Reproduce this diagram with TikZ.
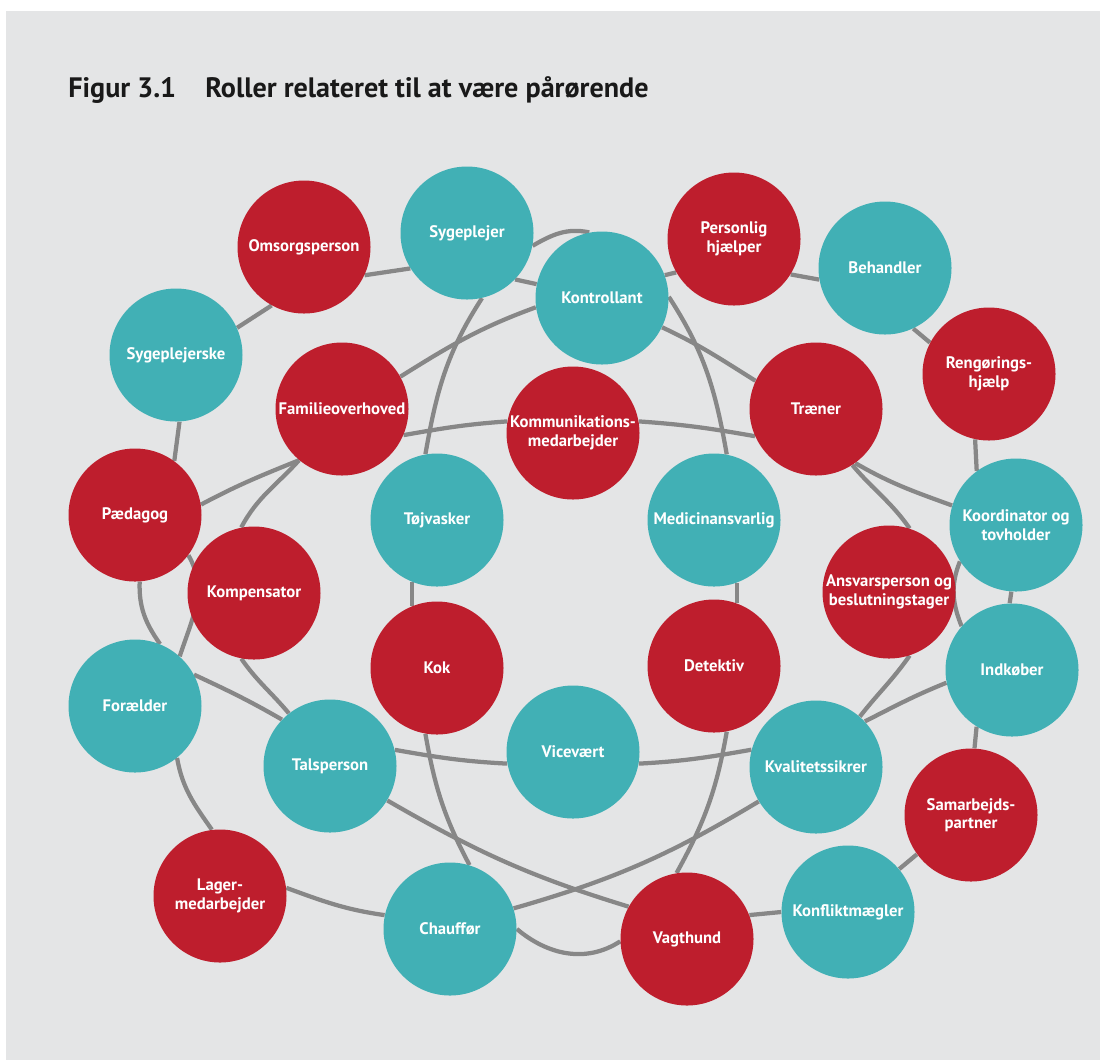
\documentclass[tikz,border=0pt]{standalone}
\usepackage{fontspec}
\setmainfont{PT Sans}
\definecolor{rolered}{HTML}{BE1E2D}
\definecolor{roleteal}{HTML}{41B0B5}
\definecolor{linkgray}{HTML}{878787}
\definecolor{panelgray}{HTML}{E4E5E6}
\pgfdeclarelayer{panel}
\pgfdeclarelayer{links}
\pgfsetlayers{panel,links,main}
\tikzset{
  role/.style={circle,minimum size=26.6mm,inner sep=0pt,text=white,align=center,
    font=\bfseries\fontsize{9.5}{10.5}\selectfont},
  redrole/.style={role,fill=rolered},
  tealrole/.style={role,fill=roleteal},
  link/.style={draw=linkgray,line width=0.85mm},
  titletext/.style={anchor=base west,inner sep=0pt,text=black!90,
    font=\bfseries\fontsize{16}{19}\selectfont}
}
\begin{document}
\begin{tikzpicture}[x=0.2mm,y=-0.2mm]
  \useasboundingbox (0,0) rectangle (1100,1060);
  \begin{pgfonlayer}{panel}
    \fill[white] (0,0) rectangle (1100,1060);
    \fill[panelgray] (6,11) rectangle (1100,1060);
  \end{pgfonlayer}

  \node[titletext] (figno) at (68,97) {Figur 3.1};
  \node[titletext] (figtitle) at (205,97) {Roller relateret til at være pårørende};

  \node[redrole]  (omsorg) at (304,247) {Omsorgsperson};
  \node[tealrole] (sygeplejer) at (467,233) {Sygeplejer};
  \node[tealrole] (kontrol) at (602,298) {Kontrollant};
  \node[redrole]  (personlig) at (734,239) {Personlig\\hjælper};
  \node[tealrole] (behandler) at (885,268) {Behandler};
  \node[redrole]  (rengoring) at (989,374) {Rengørings-\\hjælp};
  \node[tealrole] (sygeplejerske) at (176,355) {Sygeplejerske};
  \node[redrole]  (familie) at (342,409) {Familieoverhoved};
  \node[redrole]  (komm) at (573,433) {Kommunikations-\\medarbejder};
  \node[redrole]  (traener) at (816,409) {Træner};
  \node[redrole]  (paedagog) at (135,515) {Pædagog};
  \node[redrole]  (kompensator) at (254,593) {Kompensator};
  \node[tealrole] (tojvasker) at (437,520) {Tøjvasker};
  \node[tealrole] (medicin) at (714,520) {Medicinansvarlig};
  \node[tealrole] (koordinator) at (1016,525) {Koordinator og\\tovholder};
  \node[redrole]  (ansvar) at (889,592) {Ansvarsperson og\\beslutningstager};
  \node[tealrole] (indkober) at (1012,670) {Indkøber};
  \node[tealrole] (foraelder) at (135,706) {Forælder};
  \node[redrole]  (kok) at (437,668) {Kok};
  \node[redrole]  (detektiv) at (714,666) {Detektiv};
  \node[tealrole] (talsperson) at (330,766) {Talsperson};
  \node[tealrole] (vicevaert) at (573,752) {Vicevært};
  \node[tealrole] (kvalitet) at (816,767) {Kvalitetssikrer};
  \node[redrole]  (samarbejd) at (971,815) {Samarbejds-\\partner};
  \node[tealrole] (konflikt) at (848,912) {Konfliktmægler};
  \node[redrole]  (vagthund) at (687,939) {Vagthund};
  \node[tealrole] (chauffor) at (450,929) {Chauffør};
  \node[redrole]  (lager) at (220,896) {Lager-\\medarbejder};

  \begin{pgfonlayer}{links}
    \foreach \a/\b in {sygeplejerske.24/omsorg.241, omsorg.335/sygeplejer.212,
        sygeplejer.316/kontrol.168, kontrol.20/personlig.210, personlig.328/behandler.190,
        behandler.295/rengoring.152, rengoring.258/koordinator.126, koordinator.266/indkober.92,
        indkober.238/samarbejd.87, samarbejd.216/konflikt.40, konflikt.180/vagthund.21,
        sygeplejerske.273/paedagog.54, medicin.290/detektiv.70, tojvasker.248/kok.112}
      \draw[link] (\a) -- (\b);

    \draw[link] (sygeplejer.349) to[out=30,in=168] (kontrol.101);
    \draw[link] (kontrol.1) to[out=-57,in=100] (medicin.79);
    \draw[link] (detektiv.281) to[out=260,in=61] (vagthund.99);
    \draw[link] (vagthund.182) to[out=213,in=320] (chauffor.0);
    \draw[link] (kok.260) to[out=280,in=118] (chauffor.73);
    \draw[link] (tojvasker.100) to[out=80,in=237] (sygeplejer.283);

    \draw[link] (familie.337) to[out=10,in=184] (komm.170);
    \draw[link] (komm.10) to[out=-4,in=170] (traener.204);
    \draw[link] (talsperson.14) to[out=-10,in=177] (vicevaert.190);
    \draw[link] (vicevaert.350) to[out=3,in=190] (kvalitet.165);

    \draw[link] (paedagog.9) to[out=28,in=202] (familie.230);
    \draw[link] (familie.29) to[out=32,in=200] (kontrol.188);
    \draw[link] (kontrol.334) to[out=-25,in=148] (traener.155);
    \draw[link] (traener.306) to[out=-30,in=160] (koordinator.163);
    \draw[link] (koordinator.213) to[out=248,in=112] (indkober.139);
    \draw[link] (paedagog.323) to[out=300,in=72] (foraelder.48);
    \draw[link] (indkober.191) to[out=202,in=27] (kvalitet.43);
    \draw[link] (foraelder.28) to[out=-25,in=150] (talsperson.136);
    \draw[link] (kvalitet.211) to[out=211,in=16] (chauffor.18);
    \draw[link] (talsperson.329) to[out=-30,in=163] (vagthund.151);
    \draw[link] (familie.230) to[out=228,in=62] (kompensator.101);
    \draw[link] (kompensator.259) to[out=305,in=130] (talsperson.128);
    \draw[link] (traener.303) to[out=-50,in=125] (ansvar.72);
    \draw[link] (ansvar.288) to[out=235,in=52] (kvalitet.49);

    \draw[link] (lager.7) to[out=-20,in=172] (chauffor.168);
    \draw[link] (foraelder.309) to[out=280,in=125] (lager.97);
    \draw[link] (paedagog.274) to[out=268,in=125] (foraelder.68);
  \end{pgfonlayer}
\end{tikzpicture}
\end{document}
